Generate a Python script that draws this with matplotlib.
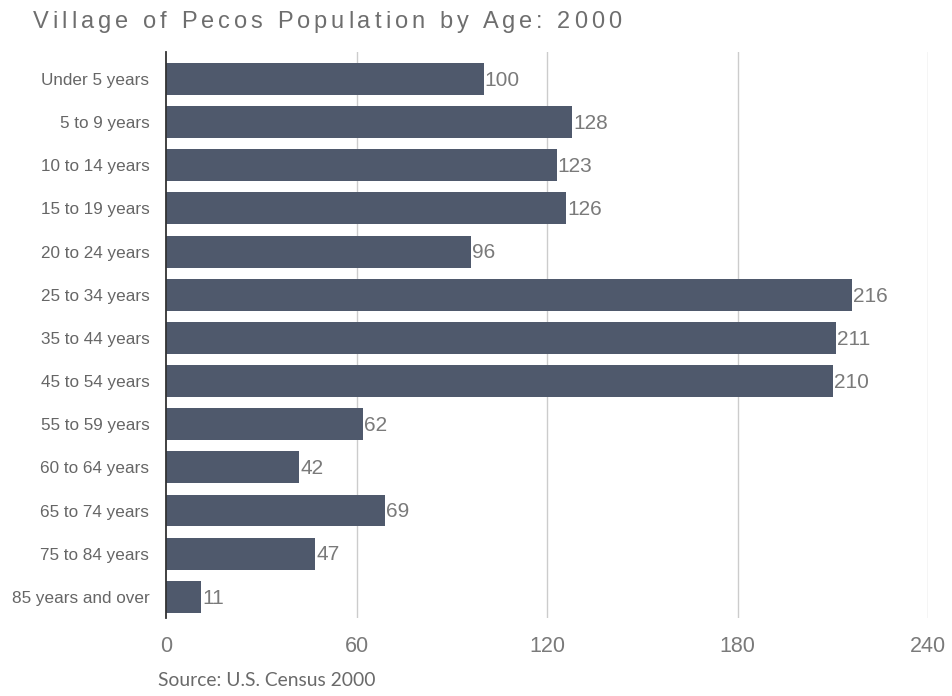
import matplotlib.pyplot as plt
import numpy as np
from matplotlib.font_manager import FontProperties

# Age groups and population counts
age_groups = [
    'Under 5 years', '5 to 9 years', '10 to 14 years', '15 to 19 years',
    '20 to 24 years', '25 to 34 years', '35 to 44 years', '45 to 54 years',
    '55 to 59 years', '60 to 64 years', '65 to 74 years', '75 to 84 years',
    '85 years and over',
]
population = [100, 128, 123, 126, 96, 216, 211, 210, 62, 42, 69, 47, 11]
x_ticks = [0, 60, 120, 180, 240]

title = 'Village of Pecos Population by Age: 2000'
source = 'Source: U.S. Census 2000'

bar_color = '#4f596c'
num_font = 'Liberation Sans'

fig = plt.figure(figsize=(9.52, 6.96), dpi=100)
ax = fig.add_axes([0.1744, 0.1121, 0.8004, 0.8132])

y = np.arange(len(age_groups))
ax.barh(y, population, height=0.74, color=bar_color, zorder=3)

for yi, v in zip(y, population):
    ax.text(v + 0.4, yi + 0.03, str(v), va='center', ha='left',
            fontsize=15, family=num_font, color='#7a7a7a', zorder=4)

ax.set_xlim(0, 240)
ax.set_ylim(len(age_groups) - 1 + 0.49, -0.625)
ax.set_xticks(x_ticks)
ax.set_xticklabels([str(t) for t in x_ticks], fontsize=15.5,
                   family=num_font, color='#7a7a7a')
ax.set_yticks(y)
ax.set_yticklabels(age_groups, fontsize=12.3, family=num_font, color='#666666')
ax.tick_params(axis='x', length=0, pad=13)
ax.tick_params(axis='y', length=0, pad=12)

for t in x_ticks[1:]:
    ax.axvline(t, color='#cccccc', linewidth=1, zorder=1)

for side in ['top', 'right', 'bottom']:
    ax.spines[side].set_visible(False)
ax.spines['left'].set_color('#333333')
ax.spines['left'].set_linewidth(1.3)
ax.spines['left'].set_zorder(5)

# letter-spaced title, laid out character by character
renderer = fig.canvas.get_renderer()
fp = FontProperties(family=num_font, size=17)
track = 4.0  # extra px between characters
x0, y0 = 33, 696 - 28
wbar, _, _ = renderer.get_text_width_height_descent('|', fp, ismath=False)
for i, ch in enumerate(title):
    w = 0
    if i > 0:
        w, _, _ = renderer.get_text_width_height_descent(title[:i] + '|', fp, ismath=False)
        w -= wbar
    fig.text((x0 + w + i * track) / 952, y0 / 696, ch, fontproperties=fp,
             color='#6e6e6e', va='baseline', ha='left')

fig.text(158 / 952, 1 - 681 / 696, source, fontsize=13.9, family='Lato',
         color='#6a6a6a', va='center', ha='left')

fig.savefig('out.png', dpi=100)
